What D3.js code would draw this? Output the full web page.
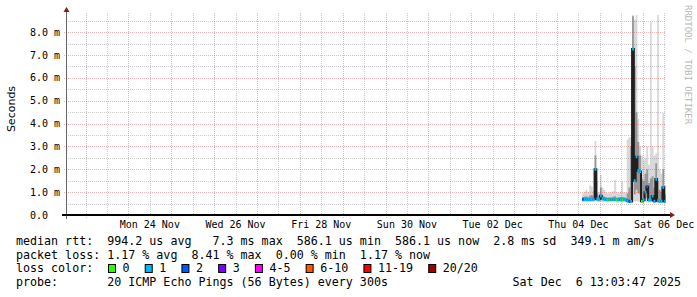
<!DOCTYPE html>
<html>
<head>
<meta charset="utf-8">
<style>
body { margin: 0; background: #fff; }
svg { display: block; }
text { font-family: "DejaVu Sans Mono", monospace; fill: #000; }
</style>
</head>
<body>
<svg width="697" height="297"></svg>
<script src="https://cdn.jsdelivr.net/npm/d3@7"></script>
<script>
// time window: 14 days ending at the graph timestamp
var endTime = Date.UTC(2025, 11, 6, 13, 3, 47);
var startTime = endTime - 14 * 86400000;

// hourly samples, first one 47h before end
var sampleCount = 47;
var firstSample = endTime - sampleCount * 3600000;

// median rtt (ms)
var median = [0.69, 0.70, 0.69, 0.68, 0.69, 0.70, 0.69, 2.00, 0.70, 0.69,
  0.84, 0.72, 0.70, 0.68, 0.66, 0.68, 0.68, 0.69, 0.68, 0.66,
  0.67, 0.68, 0.66, 0.68, 0.66, 0.62, 0.60, 0.59, 7.26, 1.50,
  2.55, 1.94, 1.90, 0.60, 0.66, 1.00, 1.24, 0.66, 0.66, 0.83,
  0.60, 1.57, 0.62, 0.60, 0.60, 1.21, 0.586];
// lost pings out of 20
var loss = [2, 1, 1, 1, 1, 1, 1, 1, 1, 1,
  1, 1, 1, 1, 0, 1, 1, 1, 1, 0,
  1, 1, 0, 1, 1, 1, 2, 1, 1, 1,
  1, 1, 1, 0, 1, 1, 2, 1, 1, 1,
  1, 1, 1, 1, 1, 1, 1];
// smoke: spread of the 20 pings (ms)
var smokeMin = [0.56, 0.57, 0.56, 0.56, 0.57, 0.57, 0.56, 0.60, 0.57, 0.56,
  0.58, 0.57, 0.57, 0.56, 0.56, 0.56, 0.56, 0.56, 0.56, 0.55,
  0.55, 0.56, 0.55, 0.56, 0.55, 0.54, 0.54, 0.54, 0.60, 0.58,
  0.60, 0.58, 0.58, 0.54, 0.55, 0.56, 0.56, 0.55, 0.55, 0.56,
  0.54, 0.56, 0.54, 0.54, 0.54, 0.56, 0.54];
var smokeLow = [0.63, 0.64, 0.63, 0.62, 0.63, 0.64, 0.63, 0.85, 0.64, 0.63,
  0.68, 0.64, 0.63, 0.62, 0.61, 0.62, 0.62, 0.63, 0.62, 0.61,
  0.62, 0.62, 0.61, 0.62, 0.61, 0.58, 0.57, 0.56, 2.50, 0.90,
  1.10, 0.95, 0.90, 0.57, 0.60, 0.70, 0.75, 0.60, 0.60, 0.65,
  0.57, 0.80, 0.58, 0.57, 0.57, 0.75, 0.56];
var smokeHigh = [0.78, 0.80, 0.82, 0.79, 0.85, 0.88, 0.80, 2.60, 0.95, 0.82,
  1.20, 0.85, 0.80, 0.78, 0.76, 0.78, 0.77, 0.80, 0.82, 0.76,
  0.78, 0.79, 0.80, 0.78, 0.76, 0.95, 1.20, 3.00, 8.70, 6.50,
  4.50, 3.20, 2.60, 1.60, 1.50, 1.80, 2.00, 1.40, 1.60, 1.70,
  1.20, 2.27, 1.50, 1.10, 1.00, 2.00, 0.90];
var smokeMax = [0.95, 1.02, 1.10, 1.00, 1.30, 1.25, 1.05, 3.24, 1.50, 1.00,
  1.75, 1.20, 1.09, 1.00, 0.95, 0.98, 1.00, 1.05, 1.53, 1.00,
  0.96, 1.02, 1.46, 1.00, 0.98, 3.30, 3.40, 3.40, 8.75, 8.55,
  8.75, 4.20, 3.00, 2.60, 2.40, 2.50, 3.00, 2.20, 8.46, 3.00,
  2.60, 2.70, 8.75, 2.00, 1.80, 4.46, 1.30];

var yTicks = [0, 1, 2, 3, 4, 5, 6, 7, 8];
var xLabelDays = ["2025-11-24", "2025-11-26", "2025-11-28", "2025-11-30",
  "2025-12-02", "2025-12-04", "2025-12-06"];

var lossLabels = ["0", "1", "2", "3", "4-5", "6-10", "11-19", "20/20"];
var lossColors = ["#26ff00", "#00b8ff", "#0059ff", "#7e00ff", "#ff00ff", "#ff5500", "#ff0000", "#a10000"];
var lossUpper = [0, 1, 2, 3, 5, 10, 19, 20];

var legendLines = [
  "median rtt:  994.2 us avg   7.3 ms max  586.1 us min  586.1 us now  2.8 ms sd  349.1 m am/s",
  "packet loss: 1.17 % avg  8.41 % max  0.00 % min  1.17 % now",
  "loss color:",
  "probe:       20 ICMP Echo Pings (56 Bytes) every 300s"
];
var stamp = "Sat Dec  6 13:03:47 2025";

var svg = d3.select("svg");
var plotLeft = 66, plotRight = 666, plotTop = 13, plotBottom = 215;

var x = d3.scaleUtc().domain([startTime, endTime]).range([plotLeft, plotRight]);
var y = d3.scaleLinear().domain([0, 8.84]).range([plotBottom, plotTop]);

var data = median.map(function(m, i) {
  return {t: firstSample + i * 3600000, med: m, loss: loss[i],
    min: smokeMin[i], lo: smokeLow[i], hi: smokeHigh[i], max: smokeMax[i]};
});
// extra point so the last step reaches the end
var last = data[data.length - 1];
var stepData = data.concat([Object.assign({}, last, {t: endTime})]);

// smoke
var outer = d3.area().curve(d3.curveStepAfter)
  .x(function(d) { return x(d.t); })
  .y0(function(d) { return y(d.min); })
  .y1(function(d) { return y(d.max); });
var inner = d3.area().curve(d3.curveStepAfter)
  .x(function(d) { return x(d.t); })
  .y0(function(d) { return y(d.lo); })
  .y1(function(d) { return y(d.hi); });
svg.append("path").datum(stepData).attr("d", outer).attr("fill", "#d8d8d8");
svg.append("path").datum(stepData).attr("d", inner).attr("fill", "#979797");

// grid
var grid = svg.append("g");
var minorY = d3.range(0.5, 8.84, 1);
grid.selectAll(".ymin").data(minorY).enter().append("line")
  .attr("x1", plotLeft).attr("x2", plotRight)
  .attr("y1", function(d) { return Math.round(y(d)) + 0.5; })
  .attr("y2", function(d) { return Math.round(y(d)) + 0.5; })
  .attr("stroke", "rgba(128,128,128,0.4)").attr("stroke-dasharray", "1,1");
grid.selectAll(".ymaj").data(yTicks.slice(1)).enter().append("line")
  .attr("x1", plotLeft - 2).attr("x2", plotRight)
  .attr("y1", function(d) { return Math.round(y(d)) + 0.5; })
  .attr("y2", function(d) { return Math.round(y(d)) + 0.5; })
  .attr("stroke", "rgba(215,60,60,0.38)").attr("stroke-dasharray", "1,1");

var days = d3.utcDay.range(startTime, endTime);
var noons = d3.utcDay.range(startTime - 86400000, endTime)
  .map(function(d) { return +d + 43200000; })
  .filter(function(t) { return t > startTime && t < endTime; });
grid.selectAll(".xmin").data(noons).enter().append("line")
  .attr("x1", function(d) { return Math.round(x(d)) + 0.5; })
  .attr("x2", function(d) { return Math.round(x(d)) + 0.5; })
  .attr("y1", plotTop).attr("y2", plotBottom + 2)
  .attr("stroke", "rgba(128,128,128,0.4)").attr("stroke-dasharray", "1,1");
grid.selectAll(".xmaj").data(days).enter().append("line")
  .attr("x1", function(d) { return Math.round(x(d)) + 0.5; })
  .attr("x2", function(d) { return Math.round(x(d)) + 0.5; })
  .attr("y1", plotTop).attr("y2", plotBottom + 3)
  .attr("stroke", "rgba(215,60,60,0.38)").attr("stroke-dasharray", "1,1");

// median line and loss colouring
var medLine = d3.line().curve(d3.curveStepAfter)
  .x(function(d) { return x(d.t); })
  .y(function(d) { return y(d.med); });
svg.append("path").datum(stepData).attr("d", medLine)
  .attr("fill", "none").attr("stroke", "#202020").attr("stroke-width", 2);

function lossColor(n) {
  for (var k = 0; k < lossUpper.length; k++) if (n <= lossUpper[k]) return lossColors[k];
  return lossColors[lossColors.length - 1];
}
svg.selectAll(".seg").data(data).enter().append("line")
  .attr("x1", function(d) { return x(d.t); })
  .attr("x2", function(d) { return x(Math.min(d.t + 3600000, endTime)); })
  .attr("y1", function(d) { return y(d.med); })
  .attr("y2", function(d) { return y(d.med); })
  .attr("stroke", function(d) { return lossColor(d.loss); })
  .attr("stroke-width", 3);

// axes
svg.append("line").attr("x1", plotLeft + 0.5).attr("x2", plotLeft + 0.5)
  .attr("y1", plotTop - 2).attr("y2", plotBottom + 4).attr("stroke", "#666");
svg.append("line").attr("x1", plotLeft - 4).attr("x2", plotRight + 4)
  .attr("y1", plotBottom).attr("y2", plotBottom).attr("stroke", "#000").attr("stroke-width", 2);
svg.append("path").attr("d", "M" + (plotLeft + 0.5) + "," + (plotTop - 6) + "l-3,5h6z").attr("fill", "#8b1a1a");
svg.append("path").attr("d", "M" + (plotRight + 9) + "," + plotBottom + "l-5,-3v6z").attr("fill", "#8b1a1a");

// y labels
svg.append("g").selectAll("text").data(yTicks).enter().append("text")
  .attr("x", 30).attr("y", function(d) { return y(d); })
  .attr("dy", "0.35em").attr("font-size", 10)
  .text(function(d) { return d === 0 ? "0.0" : d.toFixed(1) + " m"; });

// x labels at noon
var fmt = d3.utcFormat("%a %d %b");
svg.append("g").selectAll("text").data(xLabelDays).enter().append("text")
  .attr("x", function(d) { return x(new Date(d + "T12:00:00Z")); })
  .attr("y", 228).attr("text-anchor", "middle").attr("font-size", 10)
  .text(function(d) { return fmt(new Date(d + "T12:00:00Z")); });

svg.append("text").attr("transform", "translate(15,109) rotate(-90)")
  .attr("text-anchor", "middle").attr("font-size", 11)
  .style("font-family", "DejaVu Sans")
  .text("Seconds");

svg.append("text").attr("transform", "translate(684.5,5) rotate(90)")
  .attr("font-size", 9).style("fill", "#b8b8b8")
  .text("RRDTOOL / TOBI OETIKER");

// legend
var charW = 7.02, legX = 16;
svg.append("g").selectAll("text").data(legendLines).enter().append("text")
  .attr("x", legX).attr("y", function(d, i) { return 244.8 + i * 13.8; })
  .attr("font-size", 11.66).attr("xml:space", "preserve")
  .style("white-space", "pre")
  .text(function(d) { return d; });

var boxX = [];
var bx = 108;
lossLabels.forEach(function(l) { boxX.push(bx); bx += 29.7 + charW * l.length; });
var lg = svg.append("g").selectAll("g").data(lossLabels).enter().append("g")
  .attr("transform", function(d, i) { return "translate(" + boxX[i] + ",0)"; });
lg.append("rect").attr("x", 0.5).attr("y", 264.5).attr("width", 7).attr("height", 8)
  .attr("fill", function(d, i) { return lossColors[i]; })
  .attr("stroke", "#000");
lg.append("text").attr("x", 14.5).attr("y", 272.4).attr("font-size", 11.66)
  .text(function(d) { return d; });

svg.append("text").attr("x", 681).attr("y", 286.2).attr("text-anchor", "end")
  .attr("font-size", 11.66).attr("xml:space", "preserve").style("white-space", "pre")
  .text(stamp);
</script>
</body>
</html>
